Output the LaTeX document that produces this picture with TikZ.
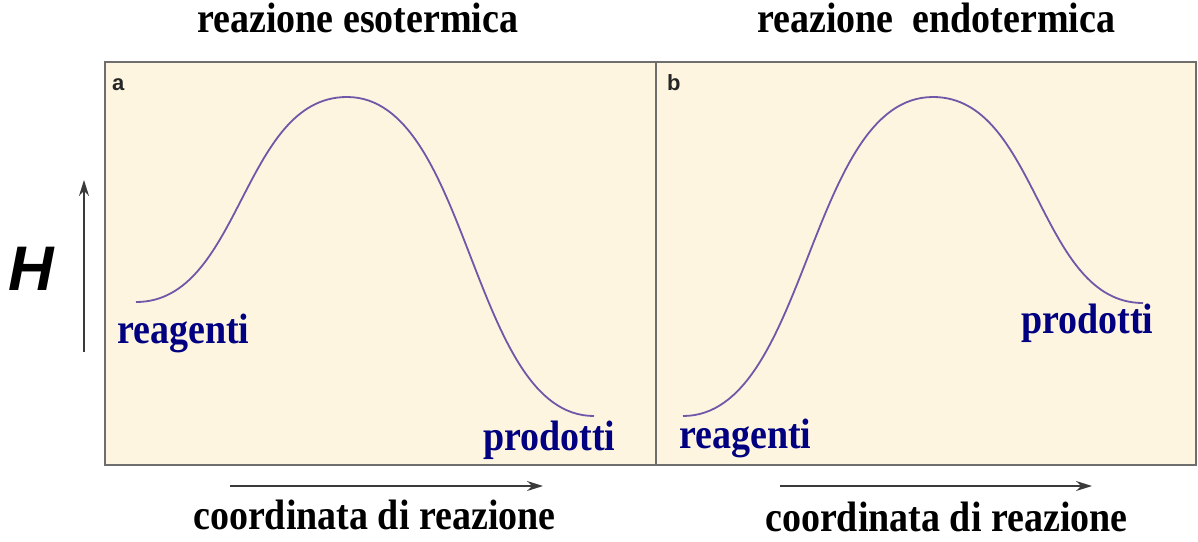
\documentclass[tikz,border=0pt]{standalone}
\usepackage{fontspec}
\newfontfamily\lserif{Liberation Serif}
\newfontfamily\lsans{Liberation Sans}
\usetikzlibrary{arrows.meta}
\definecolor{panelfill}{HTML}{FDF5E0}
\definecolor{panelline}{HTML}{6E6E6E}
\definecolor{curvecol}{HTML}{7058A8}
\definecolor{navy}{HTML}{000080}
\definecolor{axiscol}{HTML}{3A3A3A}
\newcommand{\bigtxt}[1]{\scalebox{1}[1.12]{#1}}
\tikzset{
  panel/.style={draw=panelline, line width=2.2pt, fill=panelfill},
  curve/.style={draw=curvecol, line width=1.8pt},
  lab/.style={inner sep=0pt, anchor=base west, font=\lserif\bfseries\fontsize{38}{40}\selectfont},
  statelab/.style={lab, text=navy},
  axislab/.style={lab, text=black},
  axisarrow/.style={draw=axiscol, line width=1.6pt, -{Stealth[length=16pt,width=10pt]}},
  tag/.style={inner sep=0pt, anchor=base west, text=black!85, font=\lsans\bfseries\fontsize{22}{24}\selectfont}
}
\begin{document}
\begin{tikzpicture}[x=1pt,y=-1pt]
\useasboundingbox (0,0) rectangle (1198,541);
\fill[white] (0,0) rectangle (1198,541);
% panels
\path[panel] (105,62) rectangle (656,465);
\path[panel] (656,62) rectangle (1196,465);
% tags
\node[tag] (ta) at (112,90) {a};
\node[tag] (tb) at (667,90) {b};
% curves
\coordinate (a0) at (136,302);
\coordinate (a1) at (347,97);
\coordinate (a2) at (594,416);
\draw[curve] (a0) .. controls (241.5,302) and (241.5,97) .. (a1)
  .. controls (470.5,97) and (470.5,416) .. (a2);
\coordinate (b0) at (683,416);
\coordinate (b1) at (933,97);
\coordinate (b2) at (1143,303);
\draw[curve] (b0) .. controls (808,416) and (808,97) .. (b1)
  .. controls (1038,97) and (1038,303) .. (b2);
% state labels
\node[statelab] (ra) at (117,343) {\bigtxt{reagenti}};
\node[statelab] (pa) at (483,450) {\bigtxt{prodotti}};
\node[statelab] (rb) at (679,448) {\bigtxt{reagenti}};
\node[statelab] (pb) at (1021,333) {\bigtxt{prodotti}};
% titles
\node[axislab] (t1) at (197,32) {\bigtxt{reazione esotermica}};
\node[axislab] (t2) at (757,32) {\bigtxt{reazione\ \ endotermica}};
% H axis
\coordinate (h0) at (84,352);
\coordinate (h1) at (84,180);
\draw[axisarrow] (h0) -- (h1);
\node[inner sep=0pt, anchor=base west, font=\lsans\bfseries\itshape\fontsize{63}{66}\selectfont] (H) at (8,290) {H};
% reaction coordinate axes
\coordinate (x0) at (230,486);
\coordinate (x1) at (543,486);
\draw[axisarrow] (x0) -- (x1);
\coordinate (y0) at (780,486);
\coordinate (y1) at (1092,486);
\draw[axisarrow] (y0) -- (y1);
\node[axislab] (c1) at (193,529) {\bigtxt{coordinata di reazione}};
\node[axislab] (c2) at (765,531) {\bigtxt{coordinata di reazione}};
\end{tikzpicture}
\end{document}
